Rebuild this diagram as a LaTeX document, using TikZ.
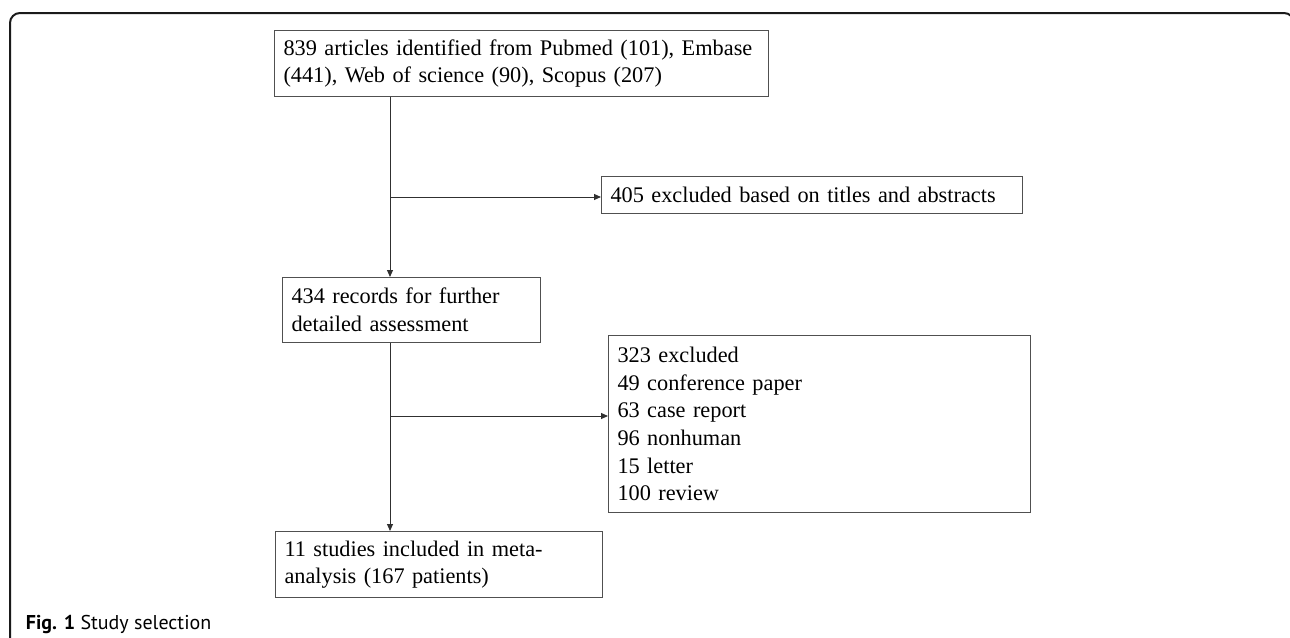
\documentclass[tikz,border=0pt]{standalone}
\usepackage{fontspec}
\setmainfont{Liberation Serif}
\setsansfont{PT Sans}
\usetikzlibrary{arrows.meta}
\definecolor{boxline}{HTML}{505050}
\definecolor{conn}{HTML}{303030}
\definecolor{framec}{HTML}{1A1A1A}
\tikzset{
  flowbox/.style={draw=boxline, line width=1pt, anchor=north west, align=left,
    inner xsep=9pt, inner ysep=0pt, font=\fontsize{22.3}{27.6}\selectfont},
  arr/.style={draw=conn, line width=1pt, -{Triangle[length=7pt,width=6pt]}},
}
\begin{document}
\begin{tikzpicture}[x=1pt,y=-1pt]
\useasboundingbox (0,0) rectangle (1290,637);
% outer frame
\draw[framec, line width=2pt, rounded corners=10pt] (10,650) -- (10,13) -- (1294,13) -- (1294,650);
% boxes
\node[flowbox, text width=476pt, minimum height=65.7pt] (top) at (274,30)
  {\mbox{839 articles identified from Pubmed (101), Embase}\\\mbox{(441), Web of science (90), Scopus (207)}};
\node[flowbox, text width=403pt, minimum height=36.7pt] (ex1) at (601,176)
  {\mbox{405 excluded based on titles and abstracts}};
\node[flowbox, text width=240pt, minimum height=65pt] (rec) at (282,277)
  {\mbox{434 records for further}\\\mbox{detailed assessment}};
\node[flowbox, text width=404pt, minimum height=177pt] (ex2) at (608,335)
  {323 excluded\\49 conference paper\\63 case report\\96 nonhuman\\15 letter\\100 review};
\node[flowbox, text width=309pt, minimum height=66pt] (inc) at (275,531)
  {\mbox{11 studies included in meta-}\\\mbox{analysis (167 patients)}};
% connectors
\coordinate (sp) at (390,0);
\coordinate (b1) at (390,197);
\coordinate (b2) at (390,416);
\draw[arr] (top.south -| sp) -- (rec.north -| sp);
\draw[arr] (b1) -- (b1 -| ex1.west);
\draw[arr] (rec.south -| sp) -- (inc.north -| sp);
\draw[arr] (b2) -- (b2 -| ex2.west);
% caption
\node[anchor=base west, inner sep=0pt, font=\sffamily\fontsize{20}{24}\selectfont] (cap) at (25.7,629)
  {\textbf{Fig. 1} Study selection};
\end{tikzpicture}
\end{document}
